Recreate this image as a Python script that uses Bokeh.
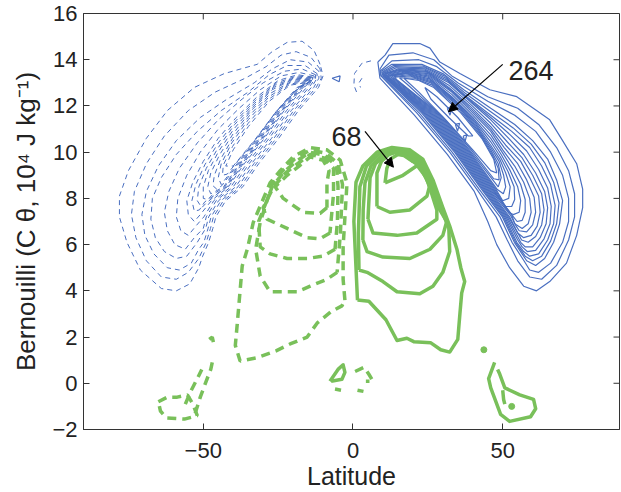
from bokeh.plotting import figure
from bokeh.models import Range1d, FixedTicker, Arrow, NormalHead, Label, ColumnDataSource
from bokeh.embed import file_html
from bokeh.resources import INLINE

BLUE = "#4a6fc0"
GREEN = "#79c05a"

X_TICKS = [-50, 0, 50]
Y_TICKS = [-2, 0, 2, 4, 6, 8, 10, 12, 14, 16]
X_MIN, X_MAX = -90, 89
Y_MIN, Y_MAX = -2, 16

# ---- contour lines: (latitude, Bernoulli) ----
BLUE_SOLID = [
    [(8.3,13.9),(10.7,14.2),(13.3,14.7),(22.3,14.7),(25.7,14.5),(29,13.9),(35.7,13.4),(45.7,12.7),(54.7,12.4),(61.3,11.8),(65.7,11.4),(70,10.5),(74.7,9.5),(76.7,8.4),(76.7,7.6),(74.7,6.4),(71.3,5.2),(65.7,4.4),(61.3,4.0),(57,4.2),(52.3,5.0),(48,6.0),(45,7.0),(40.5,8.3),(31.5,9.9),(20.5,11.6),(9,13.2),(8.3,13.9)],
    [(9,13.6),(12,14.2),(20,14.3),(27,14.0),(33,13.3),(45,12.4),(55,11.9),(62,11.2),(68,10.2),(72,9.2),(74,8.2),(74,7.2),(72,6.2),(68,5.1),(63,4.5),(59,4.6),(55,5.3),(51.5,6.2),(47.8,7.2),(41.3,8.4),(32.3,10.0),(21.3,11.7),(9.3,13.3),(9,13.6)],
    [(9,13.5),(13,13.95),(22,14.0),(28,13.7),(35,13.0),(45,12.2),(54,11.6),(61,10.9),(66,10.0),(70,9.0),(72,8.0),(72,7.0),(70,6.1),(66,5.2),(62,4.8),(59,4.9),(57.1,5.3),(53.1,6.1),(49.1,7.2),(42.1,8.4),(33.1,10.0),(22.1,11.7),(9.5,13.3),(9,13.5)],
    [(9.5,13.5),(13,13.8),(23,13.8),(30,13.4),(37,12.7),(46,11.9),(54,11.2),(60,10.5),(65,9.7),(68,8.8),(70,7.9),(69,6.9),(67,6.1),(64,5.4),(61,5.1),(58,5.3),(53.9,6.1),(49.9,7.2),(42.9,8.4),(33.9,10.0),(22.9,11.7),(10,13.3),(9.5,13.5)],
    [(9.8,13.47),(13.5,13.75),(23.5,13.72),(30.5,13.3),(37.5,12.55),(46,11.75),(53.5,11.05),(59.5,10.35),(64,9.55),(67,8.7),(68.8,7.8),(68,6.9),(66,6.15),(63,5.5),(60,5.3),(57.5,5.5),(54.3,6.1),(50.3,7.2),(43.3,8.4),(34.3,10.0),(23.3,11.7),(10.2,13.3),(9.8,13.47)],
    [(10,13.45),(14,13.7),(24,13.65),(31,13.2),(38,12.4),(46,11.6),(53,10.9),(59,10.2),(63,9.4),(66,8.6),(67.5,7.7),(67,6.9),(65,6.2),(62,5.6),(59,5.5),(57,5.7),(54.7,6.1),(50.7,7.2),(43.7,8.4),(34.7,10.0),(23.7,11.7),(10.5,13.3),(10,13.45)],
    [(10.2,13.42),(14.5,13.65),(24,13.6),(31.5,13.1),(38.5,12.3),(46,11.5),(52.5,10.75),(58,10.05),(62,9.25),(65,8.45),(66.2,7.65),(65.8,6.9),(63.8,6.25),(61,5.75),(58.2,5.7),(56.5,5.9),(55,6.2),(51.1,7.2),(44.1,8.4),(35.1,10.0),(24.1,11.7),(10.7,13.28),(10.2,13.42)],
    [(10.5,13.4),(15,13.6),(24,13.55),(32,13.0),(39,12.2),(46,11.4),(52,10.6),(57,9.9),(61,9.1),(64,8.3),(65,7.6),(64.5,6.9),(62.5,6.3),(60,5.9),(57.5,5.9),(56,6.1),(51.5,7.2),(44.5,8.4),(35.5,10.0),(24.5,11.7),(11,13.25),(10.5,13.4)],
    [(10.7,13.4),(15.5,13.57),(24.5,13.5),(32,12.9),(39,12.1),(46,11.25),(51.5,10.45),(56.5,9.75),(60,9.0),(63,8.2),(63.8,7.5),(63,6.85),(61,6.35),(58.5,6.1),(56.3,6.2),(55.5,6.4),(51.9,7.2),(44.9,8.4),(35.9,10.0),(24.9,11.7),(11.2,13.22),(10.7,13.4)],
    [(11,13.4),(16,13.55),(25,13.45),(32,12.8),(39,12.0),(46,11.1),(51,10.3),(56,9.6),(59,8.9),(62,8.1),(62.5,7.4),(61.5,6.8),(59.5,6.4),(57,6.3),(55,6.5),(52.3,7.2),(45.3,8.4),(36.3,10.0),(25.3,11.7),(11.5,13.2),(11,13.4)],
    [(11.2,13.37),(16.5,13.52),(25,13.4),(32.5,12.7),(39.5,11.85),(46,11.0),(50.5,10.2),(55,9.5),(58,8.8),(60.5,8.05),(61,7.4),(60,6.85),(58,6.55),(55.5,6.6),(54.5,6.8),(52.7,7.25),(45.7,8.4),(36.7,10.0),(25.7,11.7),(11.7,13.2),(11.2,13.37)],
    [(11.5,13.35),(17,13.5),(25,13.35),(33,12.6),(40,11.7),(46,10.9),(50,10.1),(54,9.4),(57,8.7),(59,8.0),(59.5,7.4),(58.5,6.9),(56.5,6.7),(54,6.9),(53,7.3),(46.1,8.4),(37.1,10.0),(26.1,11.7),(12,13.2),(11.5,13.35)],
    [(11.7,13.32),(17.5,13.47),(25,13.3),(33,12.5),(40,11.6),(46,10.75),(49.8,10.0),(53.2,9.3),(56,8.6),(57.5,7.95),(57.5,7.4),(56.5,7.05),(54.8,7.0),(53,7.3),(46.5,8.4),(37.5,10.0),(26.5,11.7),(12.2,13.2),(11.7,13.32)],
    [(12,13.3),(18,13.45),(25,13.25),(33,12.4),(40,11.5),(46,10.6),(49.5,9.9),(52.5,9.2),(55,8.5),(56,7.9),(55.5,7.4),(53.5,7.3),(52,7.4),(46.9,8.4),(37.9,10.0),(26.9,11.7),(12.5,13.2),(12,13.3)],
    [(12.5,13.3),(18,13.42),(25.5,13.17),(33.5,12.3),(40.5,11.35),(46,10.45),(49.2,9.8),(51.8,9.15),(53.8,8.5),(54,7.95),(53,7.65),(51,7.65),(47.3,8.4),(38.3,10.0),(27.3,11.7),(13,13.2),(12.5,13.3)],
    [(13,13.3),(18,13.4),(26,13.1),(34,12.2),(41,11.2),(46,10.3),(49,9.7),(51,9.1),(52.5,8.5),(52,8.0),(50,7.9),(47.7,8.4),(38.7,10.0),(27.7,11.7),(13.5,13.2),(13,13.3)],
    [(13.5,13.27),(18.5,13.35),(26,13.05),(34.5,12.1),(41.5,11.05),(46,10.2),(48.8,9.6),(50.3,9.0),(51,8.5),(50.2,8.2),(48.1,8.4),(39.1,10.0),(28.1,11.7),(14,13.18),(13.5,13.27)],
    [(14,13.25),(19,13.3),(26,13.0),(35,12.0),(42,10.9),(46,10.1),(48.5,9.5),(49.5,8.9),(48.5,8.5),(39.5,10.0),(28.5,11.7),(14.5,13.15),(14,13.25)],
    [(15.5,13.22),(20.5,13.2),(26.5,12.9),(35.5,11.85),(42.5,10.75),(46.5,9.9),(48.5,9.3),(48.8,8.8),(47,8.85),(39.8,10.05),(29.8,11.55),(18,12.95),(15.5,13.22)],
    [(17,13.2),(22,13.1),(27,12.8),(36,11.7),(43,10.6),(47,9.7),(48,9.1),(46,9.2),(40,10.1),(31,11.4),(22,12.6),(17,13.2)],
    [(24,12.8),(28,12.4),(35,11.5),(40,10.7),(38.5,10.7),(32,11.5),(26,12.3),(24,12.8)],
    [(31.5,11.9),(33.2,12.0),(32.4,11.6),(31.5,11.9)],
    [(34.2,11.2),(35.6,11.25),(34.9,10.9),(34.2,11.2)],
    [(36.8,10.7),(38.0,10.75),(37.4,10.45),(36.8,10.7)],
    [(-7,13.2),(-4.3,13.3),(-4.6,13.05),(-7,13.2)],
]

BLUE_DASHED = [
    [(-11,13.8),(-13,14.4),(-17,14.8),(-22,14.75),(-27,14.35),(-32,13.8),(-43,13.4),(-53,12.8),(-62,11.8),(-69,10.6),(-75,9.2),(-78,8.1),(-78,7.2),(-75.5,6.1),(-71,4.9),(-64,4.1),(-59,4.0),(-54.5,4.3),(-51.5,5.0),(-50.2,5.5),(-48.2,6.1),(-46.8,6.7),(-45.8,7.2),(-42.5,7.9),(-36.8,8.5),(-31.5,9.5),(-24.8,10.6),(-18.2,11.8),(-11.5,12.8),(-10,13.3),(-11,13.8)],
    [(-11,13.6),(-14,14.1),(-19,14.35),(-24,14.2),(-29,13.7),(-36,13.2),(-46,12.6),(-55,11.8),(-63,10.7),(-69,9.5),(-73,8.3),(-74,7.3),(-72.5,6.3),(-69,5.3),(-64,4.6),(-59,4.5),(-55,4.8),(-51.5,5.4),(-49,6.1),(-47.6,6.7),(-46.6,7.2),(-43.3,7.9),(-37.6,8.5),(-32.3,9.5),(-25.6,10.6),(-19,11.8),(-12.3,12.8),(-10.6,13.2),(-11,13.6)],
    [(-11.4,13.5),(-15,13.9),(-21,14.0),(-27,13.6),(-33,13.0),(-42,12.3),(-51,11.5),(-59,10.5),(-65,9.4),(-69,8.3),(-70.5,7.3),(-69.5,6.4),(-66.5,5.6),(-62,5.0),(-58,4.9),(-54,5.2),(-51.5,5.8),(-49.8,6.1),(-48.4,6.7),(-47.4,7.2),(-44.1,7.9),(-38.4,8.5),(-33.1,9.5),(-26.4,10.6),(-19.8,11.8),(-13.1,12.8),(-11.4,13.2),(-11.4,13.5)],
    [(-12,13.4),(-16,13.75),(-22,13.75),(-28,13.35),(-35,12.6),(-44,11.8),(-52,10.9),(-59,9.9),(-64,8.9),(-67,8.0),(-67.5,7.1),(-66,6.3),(-63,5.7),(-59,5.4),(-55.5,5.5),(-52,6.1),(-49.2,6.7),(-48.2,7.2),(-44.9,7.9),(-39.2,8.5),(-33.9,9.5),(-27.2,10.6),(-20.6,11.8),(-13.9,12.8),(-12,13.2),(-12,13.4)],
    [(-12.5,13.35),(-17,13.6),(-23,13.5),(-30,13.0),(-37,12.3),(-45,11.4),(-52,10.4),(-58,9.3),(-61.5,8.3),(-63,7.4),(-62,6.6),(-59.5,6.0),(-56,5.8),(-53,6.3),(-50,6.7),(-49,7.2),(-45.7,7.9),(-40,8.5),(-34.7,9.5),(-28,10.6),(-21.4,11.8),(-14.7,12.8),(-12.5,13.2),(-12.5,13.35)],
    [(-13,13.3),(-18,13.45),(-24,13.3),(-31,12.7),(-38,11.9),(-45,11.0),(-51,10.0),(-55.5,9.0),(-58.5,8.0),(-59,7.2),(-57.5,6.6),(-55,6.4),(-52.5,6.8),(-49.8,7.2),(-46.5,7.9),(-40.8,8.5),(-35.5,9.5),(-28.8,10.6),(-22.2,11.8),(-15.5,12.8),(-13,13.2),(-13,13.3)],
    [(-13.5,13.25),(-18.5,13.35),(-25,13.1),(-32,12.4),(-39,11.5),(-45,10.6),(-50,9.6),(-53.5,8.7),(-55.5,7.9),(-55,7.3),(-53,7.0),(-51,7.3),(-47.3,7.9),(-41.6,8.5),(-36.3,9.5),(-29.6,10.6),(-23,11.8),(-16.3,12.8),(-13.5,13.15),(-13.5,13.25)],
    [(-13.7,13.22),(-18.7,13.3),(-25.5,13.0),(-32.5,12.25),(-39.2,11.35),(-45,10.4),(-49.5,9.45),(-52.5,8.6),(-53.8,7.9),(-53,7.45),(-51.3,7.5),(-49.5,7.85),(-42,8.5),(-36.7,9.5),(-30,10.6),(-23.4,11.8),(-16.7,12.8),(-13.7,13.12),(-13.7,13.22)],
    [(-14,13.2),(-19,13.25),(-26,12.9),(-33,12.1),(-39.5,11.2),(-45,10.2),(-49,9.3),(-51.5,8.5),(-52,7.9),(-50.5,7.6),(-49,7.8),(-42.4,8.5),(-37.1,9.5),(-30.4,10.6),(-23.8,11.8),(-17.1,12.8),(-14,13.1),(-14,13.2)],
    [(-14.2,13.17),(-19.5,13.2),(-26.5,12.8),(-33.5,11.95),(-39.8,11.0),(-44.8,10.05),(-48.3,9.2),(-50,8.5),(-50,8.0),(-48.5,7.95),(-47,8.15),(-42.8,8.5),(-37.5,9.5),(-30.8,10.6),(-24.2,11.8),(-17.5,12.8),(-14.2,13.08),(-14.2,13.17)],
    [(-14.5,13.15),(-20,13.15),(-27,12.7),(-34,11.8),(-40,10.8),(-44.5,9.9),(-47.5,9.1),(-48.5,8.5),(-47.5,8.2),(-46,8.3),(-43.2,8.5),(-37.9,9.5),(-31.2,10.6),(-24.6,11.8),(-17.9,12.8),(-14.5,13.05),(-14.5,13.15)],
    [(-14.7,13.12),(-20.5,13.07),(-27.5,12.55),(-34.5,11.6),(-40.2,10.6),(-44.2,9.7),(-46.3,9.0),(-46.8,8.55),(-45.5,8.4),(-43.8,8.55),(-38.3,9.5),(-31.6,10.6),(-25,11.8),(-18.3,12.8),(-14.7,13.02),(-14.7,13.12)],
    [(-15,13.1),(-21,13.0),(-28,12.4),(-35,11.4),(-40.5,10.4),(-44,9.5),(-45,8.9),(-44,8.6),(-38.7,9.5),(-32,10.6),(-25.4,11.8),(-18.7,12.8),(-15,13.0),(-15,13.1)],
    [(-15.5,13.05),(-21,12.95),(-28,12.3),(-35,11.25),(-40.2,10.25),(-43.3,9.45),(-43.6,9.0),(-42,9.05),(-38.9,9.55),(-32.5,10.55),(-25.7,11.75),(-19,12.7),(-15.5,13.05)],
    [(-16,13.0),(-21,12.9),(-28,12.2),(-35,11.1),(-40,10.1),(-42.5,9.4),(-40,9.4),(-33,10.5),(-26,11.7),(-19.5,12.6),(-16,13.0)],
    [(6,13.95),(3,13.85),(0.5,13.4),(0.3,12.9),(1.2,12.6)],
    [(3,13.2),(2,13.0),(2.5,12.8)],
]

GREEN_SOLID = [
    [(1.5,3.6),(1.0,5.0),(0.3,7.0),(1.0,8.7),(3.3,9.4),(8,10.0),(13,10.2),(19,10.1),(23.3,9.7),(26.7,8.8),(30,7.6),(32.3,6.8),(34.7,5.8),(36,5.0),(37.3,4.4),(36.3,3.9),(35.7,3.0),(35,1.9),(32.3,1.35),(29.3,1.45),(26,1.75),(20.3,1.8),(18,1.95),(14.7,1.85),(11,2.75),(5.3,3.55),(1.5,3.6)],
    [(2.0,4.9),(1.8,6.5),(2.3,8.5),(4.5,9.4),(9,9.95),(13,10.15),(18.5,10.05),(22.8,9.65),(26.2,8.75),(29.5,7.55),(32.0,6.7),(32.3,5.7),(30,4.8),(26.7,4.2),(22.3,3.87),(14.7,3.96),(10,4.4),(4.7,4.8),(2.0,4.9)],
    [(3.3,6.2),(3.4,7.5),(4,8.67),(6,9.4),(10,9.9),(13.5,10.1),(18,10.0),(22.3,9.6),(25.7,8.7),(29,7.5),(31.3,7.0),(30,6.4),(25.7,5.8),(19,5.4),(10,5.46),(4.7,5.7),(3.3,6.2)],
    [(5,7.1),(5.7,8.9),(7.5,9.5),(11,9.9),(14,10.05),(17.5,9.95),(21.8,9.55),(25.2,8.65),(28,7.5),(28,7.1),(21.3,6.5),(14.7,6.4),(6.7,6.5),(5,7.1)],
    [(8,7.65),(8,9.1),(9.5,9.6),(12,9.9),(14.5,10.0),(17,9.9),(21,9.5),(24.5,8.9),(25.5,8.5),(24.7,8.1),(19,7.5),(12.3,7.4),(8,7.65)],
    [(10.7,8.67),(11.3,9.3),(12.5,9.7),(15,9.9),(17,9.85),(20,9.6),(22.3,9.5),(16.7,9.0),(10.7,8.67)],
    [(-7.7,0.09),(-5,0.6),(-3.3,0.8),(-2.7,0.47),(-3.7,0.17),(-7.3,0.09)],
    [(47.3,0.9),(45.3,0.2),(46,-0.2),(49.3,-1.35),(52.3,-1.65),(59.3,-1.45),(61,-1.1),(60.3,-0.7),(55.7,-0.5),(50.7,-0.2),(49,0.4),(48.3,0.6)],
    [(50,-0.3),(50.3,-0.7),(50.7,-0.9)],
]
GREEN_DOTS_LAT = [43.7, 53.0]
GREEN_DOTS_VAL = [1.45, -1.0]

GREEN_DASHED = [
    [(-2.7,3.6),(-3.3,4.5),(-3.3,5.9),(-2,8.67),(-4.3,9.66),(-8.7,10.1),(-14.3,10.2),(-20,9.8),(-24.3,9.2),(-27.7,8.67),(-33.3,6.96),(-35.3,5.8),(-37,5.07),(-38.7,2.5),(-39.3,1.64),(-37.7,0.96),(-32.3,1.1),(-25.7,1.4),(-21,1.7),(-15.3,2.0),(-12,2.6),(-7.3,3.1),(-3.7,3.35),(-2.7,3.6)],
    [(-5.3,4.8),(-8.7,4.5),(-14.3,4.2),(-18.7,3.96),(-27.7,3.96),(-31,4.64),(-32.5,5.8),(-31,6.96),(-27,8.6),(-23.5,9.2),(-19.5,9.7),(-14.3,10.1),(-9,9.95),(-5,9.5),(-3.5,8.6),(-4.2,6.5),(-5.3,4.8)],
    [(-6,5.8),(-10,5.5),(-15.3,5.4),(-22,5.4),(-27.7,5.6),(-31,5.9),(-31.5,7.0),(-27,8.5),(-23,9.15),(-19,9.6),(-14.3,10.0),(-9.3,9.85),(-5.5,9.4),(-5,8.5),(-5.2,7),(-6,5.8)],
    [(-7.7,6.5),(-11,6.25),(-15.3,6.3),(-22,6.7),(-28.7,7.1),(-30,7.6),(-26.5,8.5),(-22.5,9.1),(-18.5,9.5),(-14.3,9.9),(-9.7,9.75),(-6.5,9.3),(-6.5,8.2),(-7.7,6.5)],
    [(-8.7,7.6),(-11,7.35),(-16.7,7.4),(-23.3,8.0),(-26,8.5),(-22,9.0),(-18,9.4),(-14.3,9.8),(-10,9.65),(-8,9.2),(-8.7,8.67),(-8.7,7.6)],
    [(-65,-0.8),(-62,-0.6),(-58.7,-0.6),(-55.3,-0.5),(-53.5,-0.9),(-52,-1.4),(-56.3,-1.55),(-62.3,-1.5),(-64.3,-1.2),(-65,-0.8)],
    [(-52.7,-1.3),(-51,-0.6),(-49.3,0.0),(-47.5,0.6),(-47,0.9)],
    [(-56,-0.9),(-54,-0.3),(-52,0.2),(-50.5,0.6)],
    [(-48,1.9),(-47,2.0),(-46.5,1.7)],
    [(0.7,0.51),(3.7,0.69),(5.3,0.39),(6.7,0.09),(4.3,0.09)],
    [(-6,-0.25),(-4,-0.3)],
    [(1.5,-0.3),(3.5,-0.35)],
]

LABELS = ["264", "68"]
LABEL_LAT = [51.9, -7.2]
LABEL_VAL = [13.55, 10.68]
ARROW_FROM = [(50.0, 13.8), (4.0, 10.9)]
ARROW_TO = [(31.9, 11.75), (13.5, 9.35)]


def to_source(lines):
    return ColumnDataSource(dict(xs=[[pt[0] for pt in ln] for ln in lines],
                                 ys=[[pt[1] for pt in ln] for ln in lines]))


FONT = "Liberation Sans"
AX = "#333333"
W, H = 621, 492
FRAME_W, FRAME_H = 536, 420
BORDER_L, BORDER_T = 83, 13

p = figure(width=W, height=H, x_range=Range1d(X_MIN, X_MAX), y_range=Range1d(Y_MIN, Y_MAX),
           output_backend="svg", toolbar_location=None,
           min_border_left=BORDER_L, min_border_right=W - BORDER_L - FRAME_W,
           min_border_top=BORDER_T, min_border_bottom=H - BORDER_T - FRAME_H)
p.grid.visible = False
p.outline_line_color = AX
p.outline_line_width = 1

p.multi_line("xs", "ys", source=to_source(BLUE_SOLID), line_color=BLUE, line_width=1.2)
p.multi_line("xs", "ys", source=to_source(BLUE_DASHED), line_color=BLUE, line_width=1,
             line_dash="5 4")
p.multi_line("xs", "ys", source=to_source(GREEN_SOLID), line_color=GREEN, line_width=3.5,
             line_join="round")
p.multi_line("xs", "ys", source=to_source(GREEN_DASHED), line_color=GREEN, line_width=3.5,
             line_dash="9 6")
p.scatter(GREEN_DOTS_LAT, GREEN_DOTS_VAL, size=6, color=GREEN)

# inward tick marks on the top and right edges of the box (6 px long)
dx = 6 * (X_MAX - X_MIN) / FRAME_W
dy = 6 * (Y_MAX - Y_MIN) / FRAME_H
p.segment(x0=X_TICKS, x1=X_TICKS, y0=[Y_MAX] * len(X_TICKS), y1=[Y_MAX - dy] * len(X_TICKS),
          line_color=AX, line_width=1)
p.segment(x0=[X_MAX] * len(Y_TICKS), x1=[X_MAX - dx] * len(Y_TICKS), y0=Y_TICKS, y1=Y_TICKS,
          line_color=AX, line_width=1)

for t, x, y in zip(LABELS, LABEL_LAT, LABEL_VAL):
    p.add_layout(Label(x=x, y=y, text=t, text_font=FONT, text_font_size="27px",
                       text_baseline="alphabetic", text_color="#222222"))
for (x0, y0), (x1, y1) in zip(ARROW_FROM, ARROW_TO):
    p.add_layout(Arrow(end=NormalHead(size=9, fill_color="black", line_color="black"),
                       x_start=x0, y_start=y0, x_end=x1, y_end=y1,
                       line_color="black", line_width=1.2))

overrides_x = {v: str(v).replace("-", "\u2212") for v in X_TICKS}
overrides_y = {v: str(v).replace("-", "\u2212") for v in Y_TICKS}

for ax, ticks, ov in ((p.xaxis[0], X_TICKS, overrides_x), (p.yaxis[0], Y_TICKS, overrides_y)):
    ax.ticker = FixedTicker(ticks=ticks)
    ax.major_label_overrides = ov
    ax.major_tick_in = 6
    ax.major_tick_out = 0
    ax.minor_tick_line_color = None
    ax.axis_line_color = AX
    ax.major_tick_line_color = AX
    ax.major_label_text_font = FONT
    ax.major_label_text_font_size = "22px"
    ax.major_label_text_color = "#222222"
    ax.axis_label_text_font = FONT
    ax.axis_label_text_font_style = "normal"
    ax.axis_label_text_color = "#222222"

p.xaxis[0].axis_label = "Latitude"
p.xaxis[0].axis_label_text_font_size = "25px"
p.xaxis[0].major_label_standoff = 13
p.xaxis[0].axis_label_standoff = 1
p.yaxis[0].axis_label = "Bernouilli (C \u03b8, 10\u2074 J kg\u207b\u00b9)"
p.yaxis[0].axis_label_text_font_size = "26px"
p.yaxis[0].major_label_standoff = 6
p.yaxis[0].axis_label_standoff = 8

open("out.html", "w").write(file_html(p, INLINE))
